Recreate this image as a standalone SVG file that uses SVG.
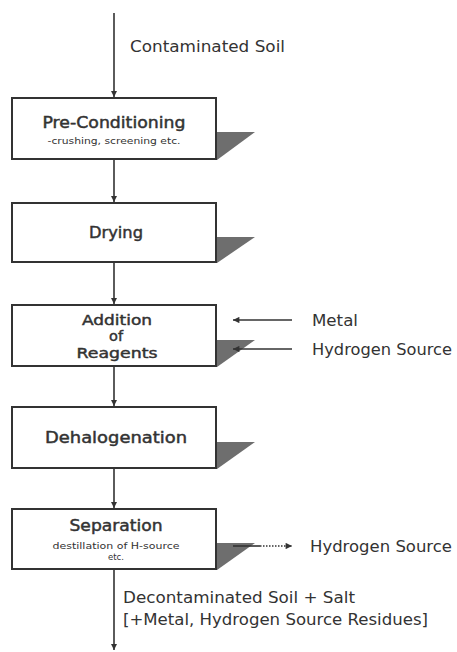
<svg xmlns="http://www.w3.org/2000/svg" width="457" height="652" viewBox="0 0 457 652">
<style>
.box{fill:#fff;stroke:#333;stroke-width:2}
.sh{fill:#6e6e6e}
.ln{stroke:#333;stroke-width:1.6;fill:none}
.t{font-family:"DejaVu Sans","Liberation Sans",sans-serif;fill:#333}
.ti{font-size:15px;text-anchor:middle;stroke:#333;stroke-width:0.45}
.tis{font-size:14px}
.sub{font-size:8.5px;text-anchor:middle}
.lb{font-size:15px}
</style>
<defs>
<marker id="ah" viewBox="0 0 10 10" refX="10" refY="5" markerWidth="4" markerHeight="4" orient="auto" markerUnits="strokeWidth"><path d="M0,0L10,5L0,10z" fill="#333"/></marker>
<marker id="ah2" viewBox="0 0 10 10" refX="10" refY="5" markerWidth="5.5" markerHeight="4" orient="auto" markerUnits="strokeWidth"><path d="M0,0L10,5L0,10z" fill="#333"/></marker>
</defs>
<rect width="457" height="652" fill="#fff"/>
<g id="n1">
<polygon class="sh" points="216,132 255,132 217,160"/>
<rect class="box" x="12" y="98" width="204" height="61"/>
<text class="t ti" x="114" y="128" textLength="143" lengthAdjust="spacingAndGlyphs">Pre-Conditioning</text>
<text class="t sub" x="114" y="144" textLength="133" lengthAdjust="spacingAndGlyphs">-crushing, screening etc.</text>
</g>
<g id="n2">
<polygon class="sh" points="216,237 255,237 217,263"/>
<rect class="box" x="12" y="203" width="204" height="59"/>
<text class="t ti" x="116" y="238" textLength="54" lengthAdjust="spacingAndGlyphs">Drying</text>
</g>
<g id="n3">
<polygon class="sh" points="216,340 255,340 217,367"/>
<rect class="box" x="12" y="305" width="204" height="61"/>
<text class="t ti tis" x="117" y="325" textLength="70" lengthAdjust="spacingAndGlyphs">Addition</text>
<text class="t ti tis" x="116" y="341" textLength="14" lengthAdjust="spacingAndGlyphs">of</text>
<text class="t ti tis" x="117" y="358" textLength="81" lengthAdjust="spacingAndGlyphs">Reagents</text>
</g>
<g id="n4">
<polygon class="sh" points="216,442 255,442 217,469"/>
<rect class="box" x="12" y="407" width="204" height="61"/>
<text class="t ti" x="116" y="443" textLength="142" lengthAdjust="spacingAndGlyphs">Dehalogenation</text>
</g>
<g id="n5">
<polygon class="sh" points="216,543 255,543 217,570"/>
<rect class="box" x="12" y="509" width="204" height="60"/>
<text class="t ti" x="116" y="531" textLength="93" lengthAdjust="spacingAndGlyphs">Separation</text>
<text class="t sub" x="116" y="549" textLength="127" lengthAdjust="spacingAndGlyphs">destillation of H-source</text>
<text class="t sub" x="116" y="560">etc.</text>
</g>
<g id="connectors">
<line class="ln" x1="114" y1="13" x2="114" y2="97" marker-end="url(#ah)"/>
<line class="ln" x1="114" y1="160" x2="114" y2="202" marker-end="url(#ah)"/>
<line class="ln" x1="114" y1="263" x2="114" y2="304" marker-end="url(#ah)"/>
<line class="ln" x1="114" y1="367" x2="114" y2="406" marker-end="url(#ah)"/>
<line class="ln" x1="114" y1="469" x2="114" y2="508" marker-end="url(#ah)"/>
<line class="ln" x1="114" y1="570" x2="114" y2="650" marker-end="url(#ah)"/>
<line class="ln" x1="292" y1="320" x2="233" y2="320" marker-end="url(#ah2)"/>
<line class="ln" x1="292" y1="349" x2="233" y2="349" marker-end="url(#ah2)"/>
<line class="ln" x1="233" y1="546" x2="260" y2="546" stroke-width="2"/>
<line class="ln" x1="260" y1="546" x2="292" y2="546" stroke-dasharray="1.5 1.5" stroke-width="1.2" marker-end="url(#ah2)"/>
</g>
<g id="labels">
<text class="t lb" x="130" y="52" textLength="155" lengthAdjust="spacingAndGlyphs">Contaminated Soil</text>
<text class="t lb" x="312" y="326" textLength="46" lengthAdjust="spacingAndGlyphs">Metal</text>
<text class="t lb" x="312" y="355" textLength="140" lengthAdjust="spacingAndGlyphs">Hydrogen Source</text>
<text class="t lb" x="310" y="552" textLength="142" lengthAdjust="spacingAndGlyphs">Hydrogen Source</text>
<text class="t lb" x="123" y="603" textLength="232" lengthAdjust="spacingAndGlyphs">Decontaminated Soil + Salt</text>
<text class="t lb" x="123" y="625" textLength="305" lengthAdjust="spacingAndGlyphs">[+Metal, Hydrogen Source Residues]</text>
</g>
</svg>
